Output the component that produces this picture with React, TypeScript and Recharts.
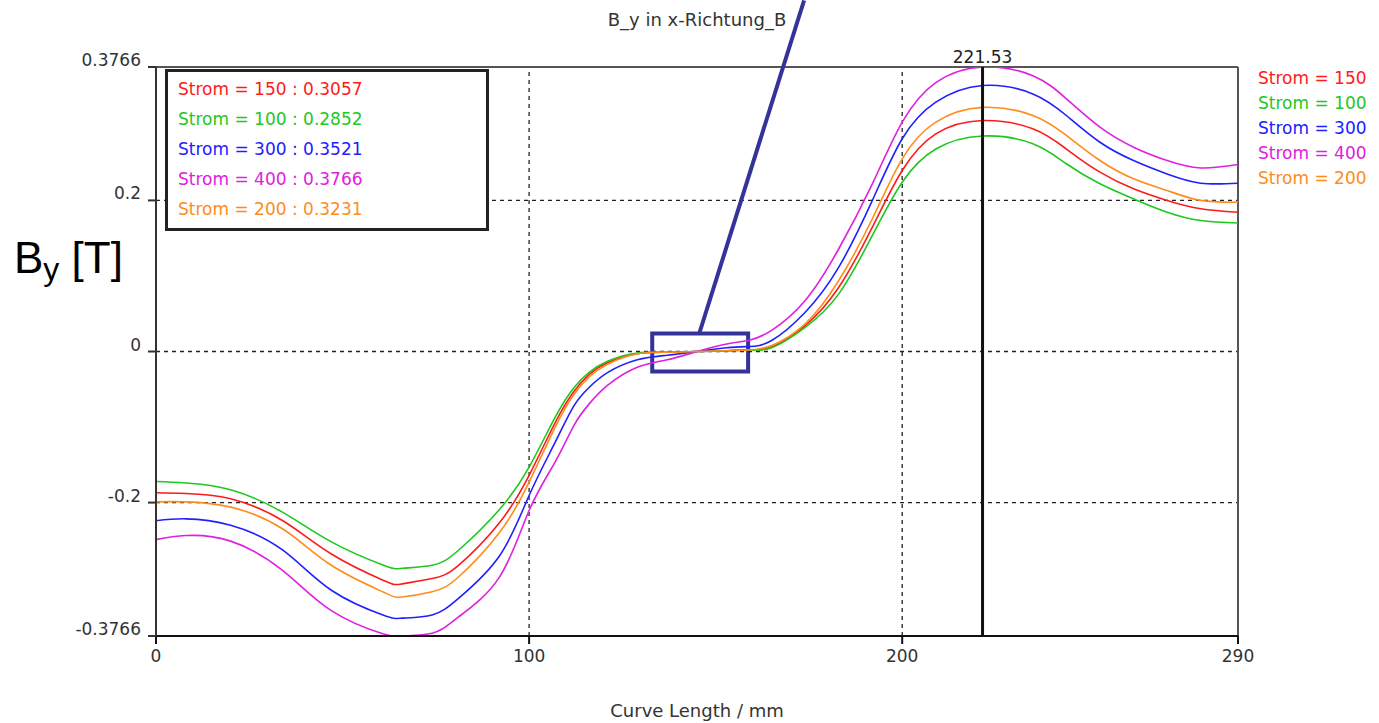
import React from 'react';
import {
  LineChart,
  Line,
  XAxis,
  YAxis,
  ReferenceLine,
  ReferenceArea,
} from 'recharts';

// curve length in mm
const xPositions = [
  0, 8, 20, 34, 47, 61, 66, 74, 81, 92, 100, 107, 112, 116, 121, 129, 137, 145, 153, 159, 165,
  174, 183, 192, 200, 209, 221.53, 235, 244, 253, 262, 271, 280, 290,
];

const strom150 = [
  -0.187, -0.188, -0.195, -0.224, -0.268, -0.303, -0.3076, -0.3006, -0.2833, -0.227, -0.164, -0.094,
  -0.053, -0.031, -0.015, -0.003, -0.001, 0, 0.001, 0.002, 0.006, 0.0344, 0.085, 0.1646, 0.2396,
  0.288, 0.3057, 0.2948, 0.268, 0.2374, 0.2154, 0.2, 0.189, 0.1844,
];
const strom100 = [
  -0.172, -0.174, -0.183, -0.213, -0.252, -0.283, -0.287, -0.283, -0.2634, -0.2094, -0.153, -0.087,
  -0.048, -0.028, -0.013, -0.002, -0.001, 0, 0.001, 0.002, 0.005, 0.032, 0.0763, 0.1536, 0.2241,
  0.268, 0.2852, 0.275, 0.2485, 0.222, 0.2021, 0.1844, 0.1734, 0.17,
];
const strom300 = [
  -0.224, -0.2215, -0.23, -0.263, -0.316, -0.349, -0.353, -0.3487, -0.327, -0.271, -0.1906, -0.12,
  -0.072, -0.048, -0.028, -0.011, -0.005, 0, 0.005, 0.0066, 0.0146, 0.052, 0.1116, 0.2, 0.2816,
  0.33, 0.3521, 0.341, 0.3124, 0.277, 0.2528, 0.235, 0.2228, 0.2228,
];
const strom400 = [
  -0.249, -0.2436, -0.251, -0.29, -0.343, -0.374, -0.3766, -0.373, -0.3517, -0.299, -0.2105, -0.146,
  -0.098, -0.07, -0.045, -0.021, -0.011, 0, 0.01, 0.015, 0.028, 0.0675, 0.136, 0.222, 0.3036,
  0.356, 0.3766, 0.365, 0.3345, 0.297, 0.2705, 0.2528, 0.243, 0.2475,
];
const strom200 = [
  -0.199, -0.199, -0.206, -0.235, -0.283, -0.3186, -0.325, -0.318, -0.2988, -0.24, -0.173, -0.1,
  -0.057, -0.034, -0.017, -0.003, -0.001, 0, 0.001, 0.002, 0.008, 0.0367, 0.094, 0.1757, 0.2551,
  0.3036, 0.3231, 0.3124, 0.286, 0.2528, 0.2286, 0.213, 0.2, 0.1977,
];

const seriesNames = ['Strom = 150', 'Strom = 100', 'Strom = 300', 'Strom = 400', 'Strom = 200'];
const seriesKeys = ['s150', 's100', 's300', 's400', 's200'];
const seriesColors = ['#ff1a1a', '#1ec81e', '#2020ff', '#e020e0', '#ff8c1a'];
const seriesValues = [strom150, strom100, strom300, strom400, strom200];

const xTicks = [0, 100, 200, 290];
const yTicks = [-0.3766, -0.2, 0, 0.2, 0.3766];
const cursorX = 221.53;

const data = xPositions.map((x, i) => {
  const row: Record<string, number> = { x };
  seriesKeys.forEach((k, s) => {
    row[k] = seriesValues[s][i];
  });
  return row;
});

const cursorIndex = xPositions.indexOf(cursorX);

const FONT = '"DejaVu Sans", Verdana, sans-serif';
const annotColor = '#333399';

const YTick = (props: any) => {
  const { x, y, payload } = props;
  return (
    <text x={x} y={y - 7} dy="0.355em" textAnchor="end" fontSize={17} fontFamily={FONT} fill="#333">
      {String(payload.value)}
    </text>
  );
};

const XTick = (props: any) => {
  const { x, y, payload } = props;
  return (
    <text x={x} y={y} dy="0.71em" textAnchor="middle" fontSize={17} fontFamily={FONT} fill="#333">
      {String(payload.value)}
    </text>
  );
};

const YLabel = () => (
  <text x={14} y={273} fontFamily='"Liberation Sans", Arial, sans-serif' fill="#000">
    <tspan fontSize={44}>B</tspan>
    <tspan fontSize={32} dy={7}>y</tspan>
    <tspan fontSize={44} dy={-7}> [T]</tspan>
  </text>
);

const App: React.FC = () => {
  return (
    <div style={{ position: 'absolute', left: 0, top: 0, width: 1379, height: 723, background: '#fff' }}>
      <div
        style={{
          position: 'absolute',
          left: 0,
          width: 1394,
          top: 9,
          textAlign: 'center',
          fontFamily: FONT,
          fontSize: 18,
          color: '#333',
        }}
      >
        B_y in x-Richtung_B
      </div>
      <div
        style={{
          position: 'absolute',
          left: 0,
          width: 1394,
          top: 700,
          textAlign: 'center',
          fontFamily: FONT,
          fontSize: 18,
          color: '#333',
        }}
      >
        Curve Length / mm
      </div>

      <LineChart
        width={1379}
        height={723}
        data={data}
        margin={{ top: 67, right: 141, bottom: 57, left: 96 }}
      >
        <XAxis
          dataKey="x"
          type="number"
          height={30}
          domain={[0, 290]}
          ticks={xTicks}
          allowDataOverflow
          stroke="#111"
          strokeWidth={2}
          tickSize={8}
          tickMargin={6}
          tick={<XTick />}
        />
        <YAxis
          type="number"
          width={60}
          domain={[-0.3766, 0.3766]}
          ticks={yTicks}
          allowDataOverflow
          stroke="#333"
          strokeWidth={2}
          tickSize={8}
          tickMargin={7}
          tick={<YTick />}
          label={<YLabel />}
        />
        {[0.2, 0, -0.2].map((v) => (
          <ReferenceLine key={`h${v}`} y={v} stroke="#222" strokeDasharray="4 4" strokeWidth={1.3} />
        ))}
        {[100, 200].map((v) => (
          <ReferenceLine key={`v${v}`} x={v} stroke="#222" strokeDasharray="4 4" strokeWidth={1.3} />
        ))}
        <ReferenceLine y={0.3766} stroke="#555" strokeWidth={2} />
        <ReferenceLine x={290} stroke="#555" strokeWidth={2} />

        {seriesKeys.map((k, s) => (
          <Line
            key={k}
            type="natural"
            dataKey={k}
            name={seriesNames[s]}
            stroke={seriesColors[s]}
            strokeWidth={1.6}
            dot={false}
            isAnimationActive={false}
          />
        ))}

        <ReferenceLine
          x={cursorX}
          stroke="#111"
          strokeWidth={3}
          label={{ value: '221.53', position: 'top', fontSize: 17, fontFamily: FONT, fill: '#222', offset: 4 }}
        />
        <ReferenceArea
          x1={133}
          x2={158.7}
          y1={-0.0265}
          y2={0.0238}
          fill="none"
          fillOpacity={0}
          stroke={annotColor}
          strokeWidth={4}
          ifOverflow="visible"
        />
        <ReferenceLine
          segment={[
            { x: 145.6, y: 0.0238 },
            { x: 173.7, y: 0.4647 },
          ]}
          stroke={annotColor}
          strokeWidth={4}
          ifOverflow="visible"
        />
      </LineChart>

      {/* value box at the cursor */}
      <div
        style={{
          position: 'absolute',
          left: 165,
          top: 69,
          width: 318,
          height: 154,
          border: '3px solid #222',
          background: '#fff',
          fontFamily: FONT,
          fontSize: 17,
          paddingTop: 2,
          boxSizing: 'content-box',
        }}
      >
        {seriesNames.map((n, s) => (
          <div key={n} style={{ color: seriesColors[s], lineHeight: '30px', paddingLeft: 10 }}>
            {`${n} : ${seriesValues[s][cursorIndex].toFixed(4)}`}
          </div>
        ))}
      </div>

      {/* series list on the right */}
      <div style={{ position: 'absolute', left: 1258, top: 66, fontFamily: FONT, fontSize: 17 }}>
        {seriesNames.map((n, s) => (
          <div key={n} style={{ color: seriesColors[s], lineHeight: '25px', whiteSpace: 'nowrap' }}>
            {n}
          </div>
        ))}
      </div>
    </div>
  );
};

export default App;
